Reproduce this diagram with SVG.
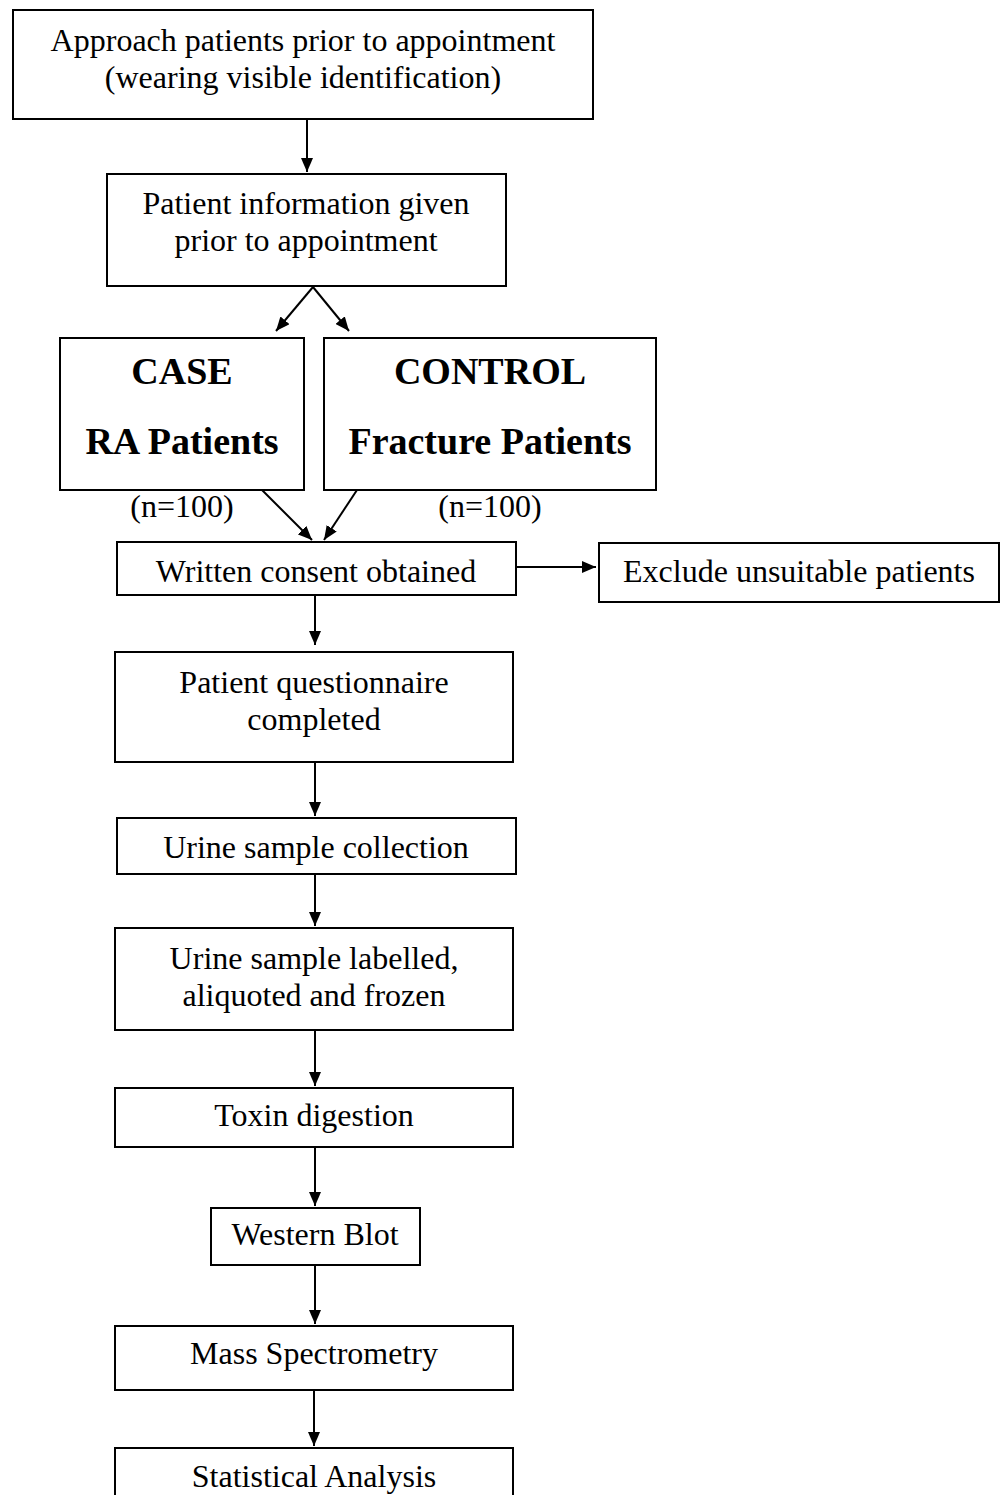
<svg xmlns="http://www.w3.org/2000/svg" width="1002" height="1495" viewBox="0 0 1002 1495">
<style>
rect{fill:#fff;stroke:#000;stroke-width:2}
text{font-family:"Liberation Serif","Times New Roman",serif;font-size:32px;fill:#000;text-anchor:middle}
.b{font-weight:bold;font-size:38px}
.c line{stroke:#000;stroke-width:2;marker-end:url(#ah)}
</style>
<defs>
<marker id="ah" viewBox="0 0 14 12" refX="14" refY="6" markerWidth="14" markerHeight="12" markerUnits="userSpaceOnUse" orient="auto">
<path d="M0,0 L14,6 L0,12 z" fill="#000"/>
</marker>
</defs>
<rect x="0" y="0" width="1002" height="1495" style="stroke:none"/>
<g id="n1"><rect x="13" y="10" width="580" height="109"/><text x="303" y="51">Approach patients prior to appointment</text><text x="303" y="88">(wearing visible identification)</text></g>
<g id="n2"><rect x="107" y="174" width="399" height="112"/><text x="306" y="214">Patient information given</text><text x="306" y="251">prior to appointment</text></g>
<g id="n3"><rect x="60" y="338" width="244" height="152"/><text class="b" x="182" y="384">CASE</text><text class="b" x="182" y="454">RA Patients</text></g>
<g id="n4"><rect x="324" y="338" width="332" height="152"/><text class="b" x="490" y="384">CONTROL</text><text class="b" x="490" y="454">Fracture Patients</text></g>
<g id="lbl"><text x="182" y="517">(n=100)</text><text x="490" y="517">(n=100)</text></g>
<g id="n5"><rect x="117" y="542" width="399" height="53"/><text x="316" y="582">Written consent obtained</text></g>
<g id="n6"><rect x="599" y="543" width="400" height="59"/><text x="799" y="582">Exclude unsuitable patients</text></g>
<g id="n7"><rect x="115" y="652" width="398" height="110"/><text x="314" y="693">Patient questionnaire</text><text x="314" y="730">completed</text></g>
<g id="n8"><rect x="117" y="818" width="399" height="56"/><text x="316" y="858">Urine sample collection</text></g>
<g id="n9"><rect x="115" y="928" width="398" height="102"/><text x="314" y="969">Urine sample labelled,</text><text x="314" y="1006">aliquoted and frozen</text></g>
<g id="n10"><rect x="115" y="1088" width="398" height="59"/><text x="314" y="1126">Toxin digestion</text></g>
<g id="n11"><rect x="211" y="1208" width="209" height="57"/><text x="315" y="1245">Western Blot</text></g>
<g id="n12"><rect x="115" y="1326" width="398" height="64"/><text x="314" y="1364">Mass Spectrometry</text></g>
<g id="n13"><rect x="115" y="1448" width="398" height="60"/><text x="314" y="1487">Statistical Analysis</text></g>
<g class="c" id="connectors">
<line x1="307" y1="119" x2="307" y2="172"/>
<line x1="313" y1="287" x2="276" y2="331"/>
<line x1="313" y1="287" x2="349" y2="331"/>
<line x1="262" y1="490" x2="312" y2="540"/>
<line x1="357" y1="490" x2="324" y2="540"/>
<line x1="516" y1="567" x2="596" y2="567"/>
<line x1="315" y1="595" x2="315" y2="645"/>
<line x1="315" y1="762" x2="315" y2="816"/>
<line x1="315" y1="874" x2="315" y2="926"/>
<line x1="315" y1="1030" x2="315" y2="1086"/>
<line x1="315" y1="1147" x2="315" y2="1206"/>
<line x1="315" y1="1265" x2="315" y2="1324"/>
<line x1="314" y1="1390" x2="314" y2="1446"/>
</g>
</svg>
